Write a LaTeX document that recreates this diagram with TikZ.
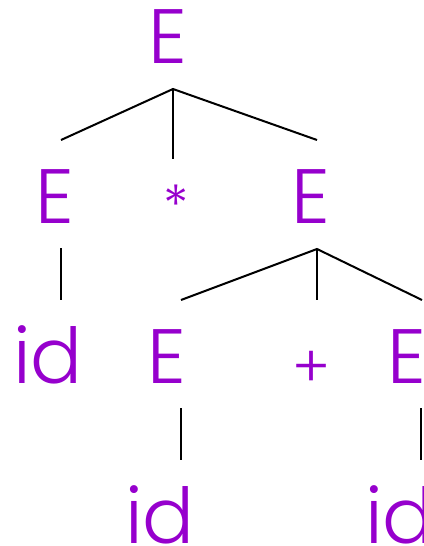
\documentclass[tikz,border=0pt]{standalone}
\usepackage{fontspec}
\setmainfont{Poppins Light}
\definecolor{sym}{RGB}{150,0,205}
\begin{document}
\begin{tikzpicture}[x=1pt,y=-1pt,
  sym/.style={text=sym,font=\fontsize{77}{80}\selectfont,inner sep=0pt,anchor=base},
  op/.style={sym,font=\fontsize{#1}{#1}\selectfont},
  edge/.style={line width=2pt,black}]
\useasboundingbox (0,0) rectangle (423,546);
% nodes
\node[sym] (e0) at (168,63) {E};
\node[sym] (e1) at (55,223) {E};
\node[op=54] (star) at (176,224) {*};
\node[sym] (e2) at (311,223) {E};
\node[sym] (id1) at (48,383) {id};
\node[sym] (e3) at (167,383) {E};
\node[op=58] (plus) at (311,387) {+};
\node[sym] (e4) at (407,383) {E};
\node[sym] (id2) at (160,543) {id};
\node[sym] (id3) at (400,543) {id};
% joints
\coordinate (j0) at (173,89);
\coordinate (a1) at (61,140);
\coordinate (a2) at (173,159);
\coordinate (a3) at (317,140);
\coordinate (b0) at (61,248);
\coordinate (b1) at (61,300);
\coordinate (c0) at (317,249);
\coordinate (c1) at (181,300);
\coordinate (c2) at (317,300);
\coordinate (c3) at (422,300);
\coordinate (d0) at (181,408);
\coordinate (d1) at (181,460);
\coordinate (f0) at (421,408);
\coordinate (f1) at (421,460);
\draw[edge] (a1) -- (j0) -- (a3);
\draw[edge] (j0) -- (a2);
\draw[edge] (b0) -- (b1);
\draw[edge] (c1) -- (c0) -- (c3);
\draw[edge] (c0) -- (c2);
\draw[edge] (d0) -- (d1);
\draw[edge] (f0) -- (f1);
\end{tikzpicture}
\end{document}
